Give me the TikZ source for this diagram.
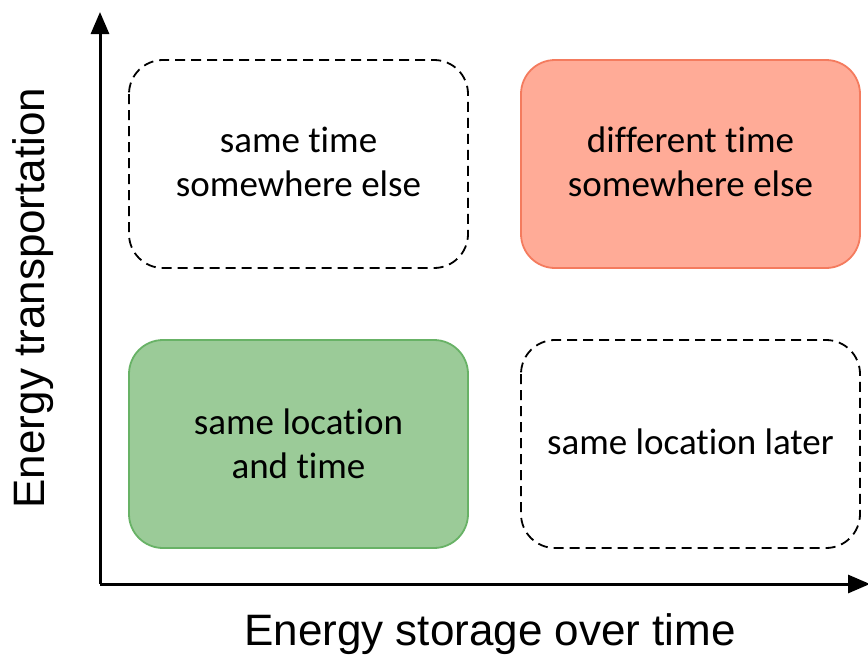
\documentclass[tikz,border=0pt]{standalone}
\usepackage{fontspec}
\setmainfont{Carlito}[Ligatures={NoCommon,NoContextual}]
\newfontfamily\axisfont{Liberation Sans}
\usetikzlibrary{arrows.meta}
\definecolor{redfill}{HTML}{FFAB97}
\definecolor{redline}{HTML}{F47B5E}
\definecolor{greenfill}{HTML}{9BCB98}
\definecolor{greenline}{HTML}{68B266}
\begin{document}
\begin{tikzpicture}[x=1pt,y=-1pt,
  quad/.style={rounded corners=34pt, line width=1.8pt},
  dashquad/.style={quad, draw=black, dash pattern=on 10pt off 6pt},
  lbl/.style={font=\fontsize{37}{44}\selectfont, align=center},
  axislbl/.style={font=\axisfont\fontsize{44}{50}\selectfont},
  axisline/.style={line width=3pt, -{Triangle[length=22pt,width=18pt]}}]
\useasboundingbox (0,0) rectangle (868,659);
\coordinate (o) at (100,584);
\coordinate (ytop) at (100,12);
\coordinate (xend) at (870,584);
\draw[axisline] (o) -- (ytop);
\draw[axisline] (o) -- (xend);
\draw[dashquad] (129,60) rectangle (468,268);
\draw[quad, fill=redfill, draw=redline] (521,60) rectangle (860,268);
\draw[quad, fill=greenfill, draw=greenline] (129,340) rectangle (468,548);
\draw[dashquad] (521,340) rectangle (860,548);
\node[lbl] (a) at (298.5,162) {same time\\somewhere else};
\node[lbl] (b) at (690.5,162) {different time\\somewhere else};
\node[lbl] (c) at (298.5,444) {same location\\and time};
\node[lbl] (d) at (690.5,442) {same location later};
\node[axislbl] (xl) at (490,634) {Energy storage over time};
\node[axislbl, rotate=90] (yl) at (33,298) {Energy transportation};
\end{tikzpicture}
\end{document}
